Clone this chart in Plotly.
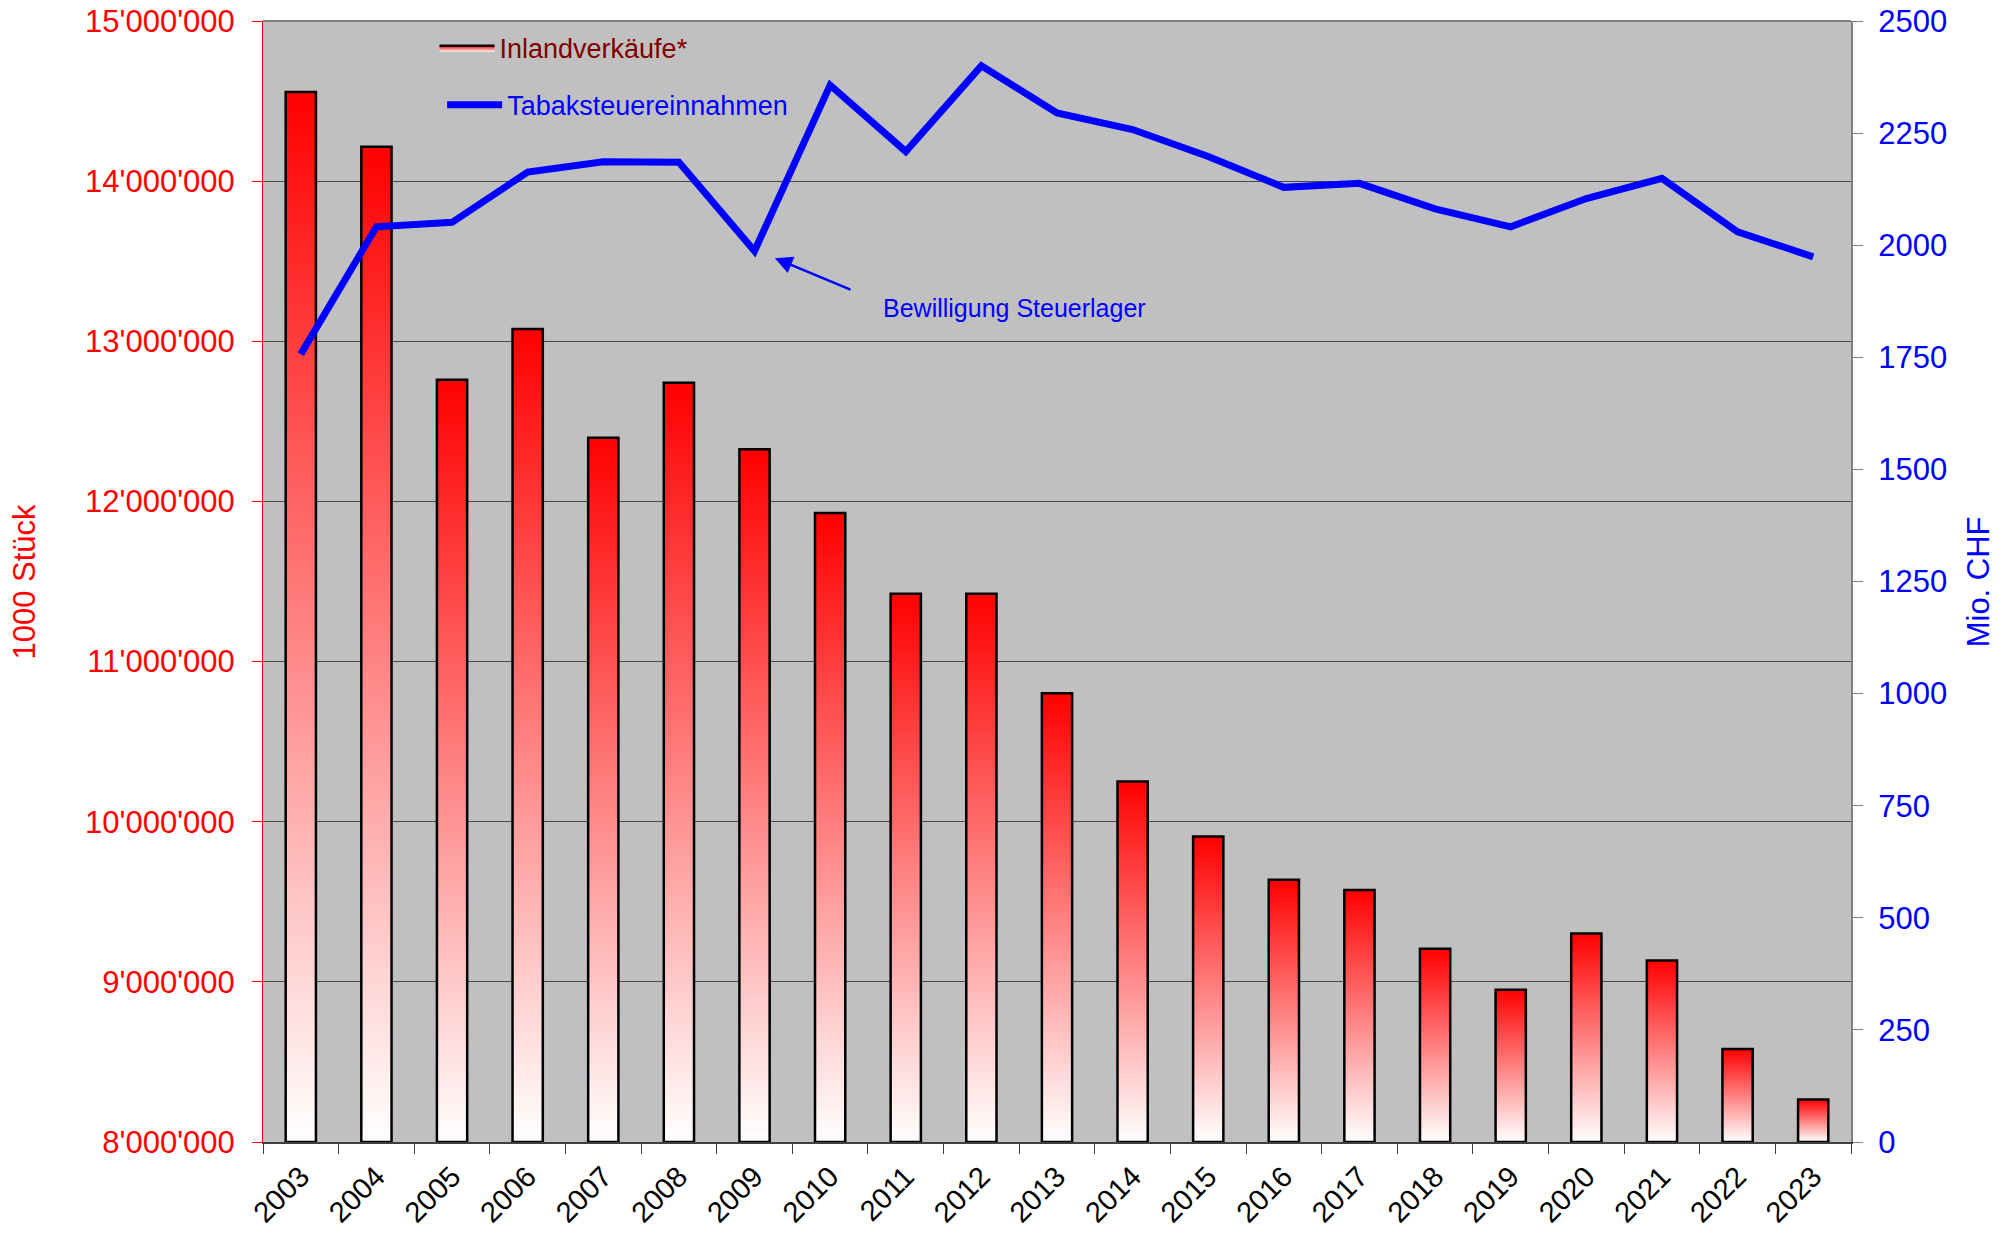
import plotly.graph_objects as go

years = ["2003", "2004", "2005", "2006", "2007", "2008", "2009", "2010", "2011", "2012",
         "2013", "2014", "2015", "2016", "2017", "2018", "2019", "2020", "2021", "2022", "2023"]
inlandverkaeufe = [14557000, 14214000, 12760000, 13076000, 12398000, 12741000, 12326000,
                   11927000, 11424000, 11424000, 10802000, 10251000, 9908000, 9637000,
                   9573000, 9206000, 8951000, 9302000, 9134000, 8580000, 8265000]
steuereinnahmen = [1757, 2041, 2051, 2163, 2186, 2185, 1987, 2357, 2209, 2400, 2295,
                   2258, 2198, 2129, 2138, 2081, 2041, 2104, 2149, 2030, 1974]

Y_MIN, Y_MAX = 8000000, 15000000
Y2_MIN, Y2_MAX = 0, 2500
HALF = 0.2
FONT = "Liberation Sans, Arial, sans-serif"

fig = go.Figure()

# bars as gradient-filled rectangles, each with its own gradient (white bottom -> red top)
for i, v in enumerate(inlandverkaeufe):
    fig.add_trace(go.Scatter(
        x=[i - HALF, i + HALF, i + HALF, i - HALF, i - HALF],
        y=[Y_MIN, Y_MIN, v, v, Y_MIN],
        mode="lines",
        fill="toself",
        fillgradient=dict(type="vertical", colorscale=[[0, "#ffffff"], [1, "#ff0000"]]),
        line=dict(color="#000000", width=2.5),
        name="Inlandverkäufe*",
        showlegend=(i == 0),
        legend="legend",
        hoverinfo="skip",
        yaxis="y",
    ))

fig.add_trace(go.Scatter(
    x=list(range(len(years))),
    y=steuereinnahmen,
    mode="lines",
    line=dict(color="#0000ff", width=7),
    name="Tabaksteuereinnahmen",
    legend="legend2",
    yaxis="y2",
))

fig.update_layout(
    width=2006,
    height=1234,
    margin=dict(l=263, r=155, t=21, b=92, autoexpand=False),
    paper_bgcolor="#ffffff",
    plot_bgcolor="#c0c0c0",
    separators=".'",
    font=dict(family=FONT, size=30, color="#000000"),
    xaxis=dict(
        range=[-0.5, len(years) - 0.5],
        tickmode="array",
        tickvals=list(range(len(years))),
        ticktext=years,
        ticks="outside",
        ticklen=4,
        tickcolor="rgba(0,0,0,0)",
        tickangle=-45,
        tickfont=dict(size=29, color="#000000"),
        showgrid=False,
        zeroline=False,
        showline=True,
        linecolor="#404040",
        linewidth=2,
        minor=dict(ticks="outside", ticklen=10, tickcolor="#404040", tickwidth=1,
                   tickmode="linear", tick0=-0.5, dtick=1, showgrid=False),
        automargin=False,
    ),
    yaxis=dict(
        range=[Y_MIN, Y_MAX],
        tickmode="linear",
        tick0=Y_MIN,
        dtick=1000000,
        tickformat=",d",
        ticks="outside",
        ticklen=10,
        tickcolor="#ff0000",
        ticklabelstandoff=11,
        tickfont=dict(size=31, color="#ff0000"),
        showgrid=True,
        gridcolor="#4a4a4a",
        gridwidth=1,
        zeroline=False,
        showline=True,
        linecolor="#ff0000",
        linewidth=1,
        automargin=False,
    ),
    yaxis2=dict(
        range=[Y2_MIN, Y2_MAX],
        overlaying="y",
        side="right",
        tickmode="linear",
        tick0=0,
        dtick=250,
        tickformat="d",
        ticks="outside",
        ticklen=10,
        tickcolor="#808080",
        ticklabelstandoff=9,
        tickfont=dict(size=31, color="#0000ff"),
        showgrid=False,
        zeroline=False,
        showline=True,
        linecolor="#808080",
        linewidth=2,
        automargin=False,
    ),
    legend=dict(
        x=0.1080, y=0.9975, xanchor="left", yanchor="top",
        bgcolor="rgba(0,0,0,0)", borderwidth=0,
        font=dict(size=27, color="#800000", family=FONT),
        itemwidth=55,
    ),
    legend2=dict(
        x=0.1128, y=0.9468, xanchor="left", yanchor="top",
        bgcolor="rgba(0,0,0,0)", borderwidth=0,
        font=dict(size=27, color="#0000ff", family=FONT),
        itemwidth=55,
    ),
    shapes=[dict(type="line", xref="paper", yref="paper", x0=0, x1=1, y0=1, y1=1,
                 line=dict(color="#808080", width=2))],
    annotations=[
        dict(text="1000 Stück", xref="paper", yref="paper", x=-0.1505, y=0.5,
             textangle=-90, showarrow=False, xanchor="center", yanchor="middle",
             font=dict(size=31, color="#ff0000", family=FONT)),
        dict(text="Mio. CHF", xref="paper", yref="paper", x=1.0805, y=0.5,
             textangle=-90, showarrow=False, xanchor="center", yanchor="middle",
             font=dict(size=31, color="#0000ff", family=FONT)),
        dict(text="", x=6.27, y=1971, xref="x", yref="y2", showarrow=True,
             ax=77, ay=32, arrowhead=2, arrowsize=1.4, arrowwidth=2.5,
             arrowcolor="#0000ff"),
        dict(text="Bewilligung Steuerlager", x=7.67, y=1859, xref="x", yref="y2",
             showarrow=False, xanchor="left", yanchor="middle",
             font=dict(size=25, color="#0000ff", family=FONT)),
    ],
)

fig.write_html("out.html",
               config={"displayModeBar": False},
               post_script="document.body.style.margin='0';document.body.style.overflow='hidden';")
